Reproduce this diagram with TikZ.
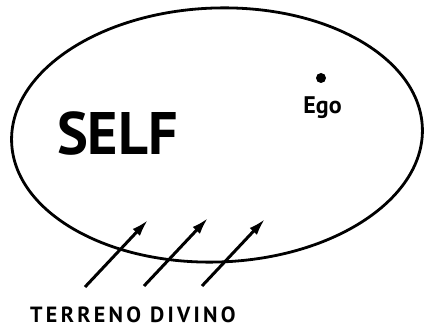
\documentclass[tikz,border=0pt]{standalone}
\usepackage{fontspec}
\setmainfont{PT Sans}
\usetikzlibrary{arrows.meta}
\tikzset{
  outline/.style={line width=2.8pt},
  upflow/.style={line width=3pt,-{Latex[length=17pt,width=10pt]}},
  bigword/.style={font=\fontsize{60}{60}\selectfont\bfseries, inner sep=0pt},
  smallword/.style={font=\fontsize{24}{24}\selectfont\bfseries, inner sep=0pt},
  groundword/.style={font=\fontsize{22}{22}\selectfont\bfseries\addfontfeature{LetterSpace=15}, inner sep=0pt, text depth=0pt}
}
\begin{document}
\begin{tikzpicture}[x=1pt,y=-1pt]
\useasboundingbox (0,0) rectangle (424,328);
\coordinate (c) at (217,135);
\draw[outline, rotate around={2:(c)}] (c) ellipse [x radius=205.5, y radius=127];
\node[bigword, xscale=0.97] (self) at (117.5,134) {SELF};
\fill (321,78) circle (5) coordinate (egodot);
\node[smallword, anchor=base] (ego) at (322.5,114) {Ego};
\coordinate (t1) at (85,287);  \coordinate (h1) at (148,220);
\coordinate (t2) at (144,286); \coordinate (h2) at (208,218);
\coordinate (t3) at (202,286); \coordinate (h3) at (265,219);
\draw[upflow] (t1) -- (h1);
\draw[upflow] (t2) -- (h2);
\draw[upflow] (t3) -- (h3);
\node[groundword, anchor=base west] (ground) at (30,323) {TERRENO DIVINO};
\end{tikzpicture}
\end{document}
